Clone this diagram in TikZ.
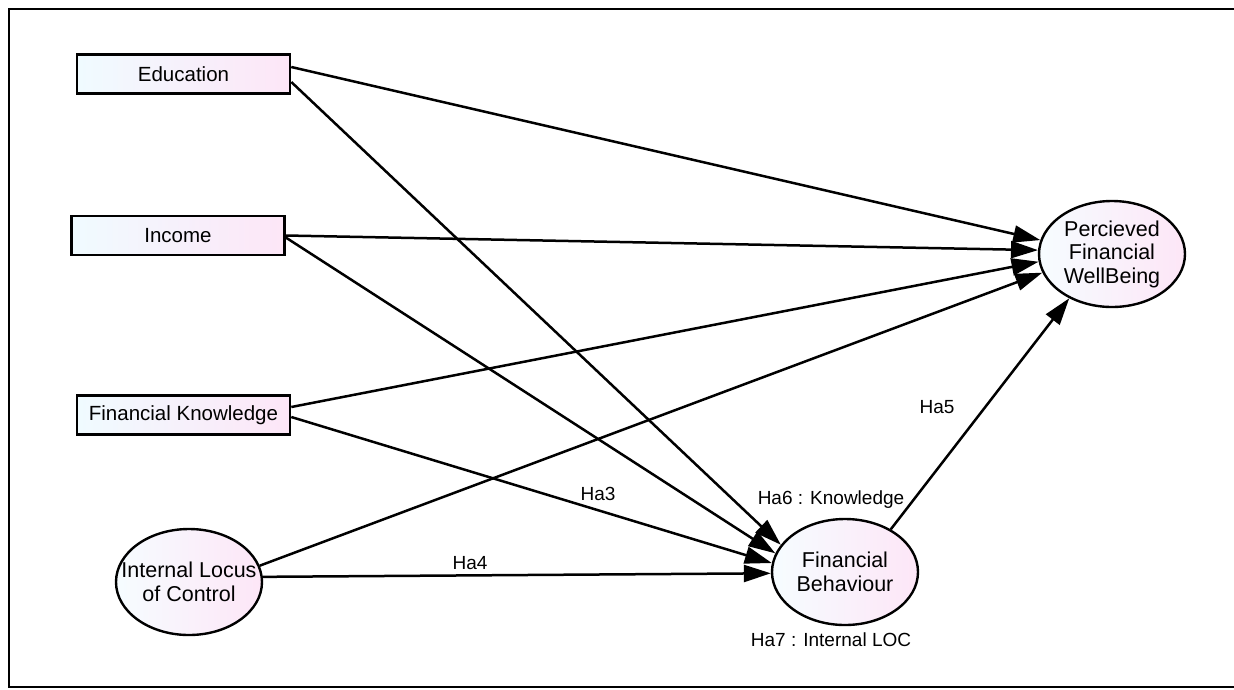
\documentclass[tikz,border=0pt]{standalone}
\usepackage{fontspec}
\setmainfont{Liberation Sans}
\usetikzlibrary{shapes.geometric,arrows.meta,calc}
\definecolor{fillL}{HTML}{F0FBFF}
\definecolor{fillR}{HTML}{FDE6F7}
\begin{document}
\begin{tikzpicture}[x=1pt,y=-1pt,
  boxnode/.style={draw,line width=2.6pt,minimum width=213pt,minimum height=39pt,
    left color=fillL,right color=fillR,font=\fontsize{20.5}{24}\selectfont,inner sep=0pt},
  ellnode/.style={ellipse,draw,line width=2.4pt,minimum width=146pt,minimum height=106pt,
    left color=fillL!60!white,right color=fillR,font=\fontsize{21.5}{23.5}\selectfont,
    align=center,inner sep=-20pt},
  path/.style={line width=2.5pt,-{Triangle[length=27pt,width=17pt]}},
  hlabel/.style={font=\fontsize{19}{22}\selectfont,inner sep=0pt}]
\useasboundingbox (0,0) rectangle (1234,689);
\fill[white] (0,0) rectangle (1234,689);
\draw[line width=2.4pt] (1236,9) -- (9,9) -- (9,687) -- (1236,687);

\node[boxnode] (edu) at (183.5,74) {Education};
\node[boxnode] (inc) at (178,235.5) {Income};
\node[boxnode] (fk) at (183.5,415) {Financial Knowledge};
\node[ellnode] (ilc) at (189,582) {Internal Locus\\of Control};
\node[ellnode] (fb) at (845,572) {Financial\\Behaviour};
\node[ellnode] (pfw) at (1112,254) {Percieved\\Financial\\WellBeing};

\draw[path] ($(edu.east)+(0,-7)$) -- (pfw.169);
\draw[path] ($(edu.east)+(0,8)$) -- (fb.157);
\draw[path] (inc.east) -- (pfw.177);
\draw[path] ($(inc.east)+(0,2)$) -- (fb.165);
\draw[path] ($(fk.east)+(0,-8)$) -- (pfw.186);
\draw[path] ($(fk.east)+(0,2)$) -- (fb.173);
\draw[path] (ilc.13) -- (pfw.195);
\draw[path] (ilc.4) -- (fb.181);
\draw[path] (fb.43) -- (pfw.226);

\node[hlabel] (l3) at (598,494) {Ha3};
\node[hlabel] (l4) at (470,563) {Ha4};
\node[hlabel] (l5) at (937,407) {Ha5};
\node[hlabel] (l6) at (831,500) {Ha6 : Knowledge};
\node[hlabel] (l7) at (831,640) {Ha7 : Internal LOC};
\end{tikzpicture}
\end{document}
